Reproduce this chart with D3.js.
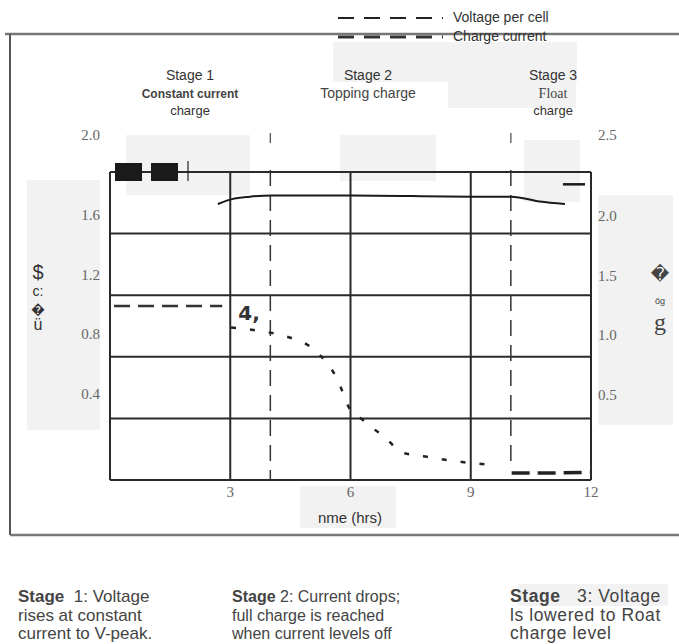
<!DOCTYPE html>
<html lang="en">
<head>
  <meta charset="UTF-8">
  <title>Three-stage charge</title>
  <script src="https://d3js.org/d3.v7.min.js"></script>
  <style>
    body { margin: 0; padding: 0; background: #fff; }
    svg { display: block; }
    .serif { font-family: "Liberation Serif", "DejaVu Serif", serif; fill: #666; font-size: 15px; }
    .sans { font-family: "Liberation Sans", Arial, sans-serif; fill: #333; }
    .note { font-family: "Liberation Sans", Arial, sans-serif; fill: #444; }
  </style>
</head>
<body>
<div id="chart"></div>
<script>
  // time axis (hrs)
  const hourGrid = [0, 3, 6, 9, 12];
  const hourTicks = [3, 6, 9, 12];
  const stageBounds = [4, 10];

  // left axis (charge current) and right axis (voltage per cell)
  const leftTicks = [1.6, 1.2, 0.8, 0.4];
  const rightTicks = [2.0, 1.5, 1.0, 0.5];
  const currentGrid = [0, 0.4, 0.8, 1.2, 1.6, 2.0];

  // voltage per cell
  const voltHours = [2.69, 3.04, 3.49, 4.04, 6, 9.03, 10.02, 10.72, 11.35];
  const voltValues = [2.24, 2.28, 2.30, 2.31, 2.31, 2.30, 2.30, 2.26, 2.24];

  // charge current, three pieces
  const holdHours = [0.1, 2.8];
  const holdValues = [1.13, 1.13];
  const dropHours = [3.02, 4.76, 5.24, 5.64, 6.03, 6.31, 6.53, 6.81, 7.28, 7.93, 8.68, 9.48];
  const dropValues = [0.99, 0.90, 0.81, 0.67, 0.44, 0.39, 0.34, 0.29, 0.18, 0.15, 0.12, 0.10];
  const floatHours = [10.02, 11.0, 11.97];
  const floatValues = [0.045, 0.045, 0.05];

  const stages = [
    { title: "Stage 1", sub: "Constant current", sub2: "charge" },
    { title: "Stage 2", sub: "Topping charge", sub2: "" },
    { title: "Stage 3", sub: "Float", sub2: "charge" }
  ];
  const notes = [
    ["Stage  1: Voltage", "rises at constant", "current to V-peak."],
    ["Stage 2: Current drops;", "full charge is reached", "when current levels off"],
    ["Stage   3: Voltage", "ls lowered to Roat", "charge level"]
  ];

  const W = 679, H = 644;
  const svg = d3.select("#chart").append("svg").attr("width", W).attr("height", H);

  const x = d3.scaleLinear().domain([0, 12]).range([110, 591]);
  const yI = d3.scaleLinear().domain([0, 2.0]).range([480, 172]);
  const yV = d3.scaleLinear().domain([0, 2.5]).range([480, 172]);
  // tick labels sit between the grid lines in the scan
  const yLabL = d3.scaleLinear().domain([0.4, 1.6]).range([399, 220]);
  const yLabR = d3.scaleLinear().domain([0.5, 2.0]).range([400, 221]);

  // scan smudges
  const smudge = [[333, 42, 244, 40], [448, 42, 128, 66], [126, 135, 124, 60], [340, 135, 96, 46],
                  [524, 140, 56, 62], [27, 180, 73, 250], [598, 195, 75, 230], [300, 486, 96, 42],
                  [518, 584, 150, 22]];
  svg.selectAll(".smudge").data(smudge).enter().append("rect")
    .attr("x", d => d[0]).attr("y", d => d[1]).attr("width", d => d[2]).attr("height", d => d[3])
    .attr("fill", "#f2f2f2");

  // outer frame
  svg.append("line").attr("x1", 5).attr("x2", W).attr("y1", 34).attr("y2", 34).attr("stroke", "#777").attr("stroke-width", 2.5);
  svg.append("line").attr("x1", 10).attr("x2", 10).attr("y1", 34).attr("y2", 535).attr("stroke", "#555").attr("stroke-width", 2);
  svg.append("line").attr("x1", 10).attr("x2", W).attr("y1", 535).attr("y2", 535).attr("stroke", "#777").attr("stroke-width", 2.5);

  // legend
  const legend = svg.append("g");
  legend.append("line").attr("x1", 338).attr("x2", 443).attr("y1", 18).attr("y2", 18)
    .attr("stroke", "#222").attr("stroke-width", 2).attr("stroke-dasharray", "16,10");
  legend.append("line").attr("x1", 338).attr("x2", 443).attr("y1", 37).attr("y2", 37)
    .attr("stroke", "#333").attr("stroke-width", 3).attr("stroke-dasharray", "16,10");
  legend.append("text").attr("class", "sans").attr("x", 453).attr("y", 22).attr("font-size", 14).text("Voltage per cell");
  legend.append("text").attr("class", "sans").attr("x", 453).attr("y", 41).attr("font-size", 14).attr("fill", "#555").text("Charge current");

  // stage headings
  const stageX = [190, 368, 553];
  const sg = svg.selectAll(".stage").data(stages).enter().append("g")
    .attr("transform", (d, i) => `translate(${stageX[i]},0)`);
  sg.append("text").attr("class", "sans").attr("text-anchor", "middle").attr("y", 80).attr("font-size", 14).text(d => d.title);
  sg.append("text").attr("text-anchor", "middle").attr("y", 98)
    .attr("font-family", (d, i) => i === 2 ? "Liberation Serif, serif" : "Liberation Sans, Arial, sans-serif")
    .attr("font-weight", (d, i) => i === 0 ? "bold" : "normal")
    .attr("font-size", (d, i) => i === 0 ? 12 : 14)
    .attr("fill", "#444").text(d => d.sub);
  sg.append("text").attr("class", "sans").attr("text-anchor", "middle").attr("y", 115).attr("font-size", 13)
    .attr("fill", "#666").text(d => d.sub2);

  // top axis end labels
  svg.append("text").attr("class", "serif").attr("x", 100).attr("y", 140).attr("text-anchor", "end").text("2.0");
  svg.append("text").attr("class", "serif").attr("x", 598).attr("y", 140).text("2.5");

  // grid
  const grid = svg.append("g").attr("stroke", "#2a2a2a").attr("stroke-width", 2);
  grid.selectAll(".gx").data(hourGrid).enter().append("line")
    .attr("x1", d => x(d)).attr("x2", d => x(d)).attr("y1", yI(2.0)).attr("y2", yI(0));
  grid.selectAll(".gy").data(currentGrid).enter().append("line")
    .attr("x1", x(0)).attr("x2", x(12)).attr("y1", d => yI(d)).attr("y2", d => yI(d));

  // stage boundaries
  svg.selectAll(".bound").data(stageBounds).enter().append("line")
    .attr("x1", d => x(d)).attr("x2", d => x(d)).attr("y1", yI(2.0) - 2).attr("y2", (d, i) => i === 1 ? yI(0.1) : yI(0))
    .attr("stroke", "#333").attr("stroke-width", 1.5).attr("stroke-dasharray", "16,9");
  svg.selectAll(".btick").data(stageBounds).enter().append("line")
    .attr("x1", d => x(d)).attr("x2", d => x(d)).attr("y1", 133).attr("y2", 143)
    .attr("stroke", "#555").attr("stroke-width", 1.3);

  // black legend blocks in plot corner
  svg.append("rect").attr("x", 115).attr("y", 163).attr("width", 27).attr("height", 18).attr("fill", "#1a1a1a");
  svg.append("rect").attr("x", 151).attr("y", 163).attr("width", 27).attr("height", 18).attr("fill", "#1a1a1a");
  svg.append("line").attr("x1", 188).attr("x2", 188).attr("y1", 161).attr("y2", 181).attr("stroke", "#222").attr("stroke-width", 1.2);

  // axis tick labels
  svg.selectAll(".tl").data(leftTicks).enter().append("text").attr("class", "serif")
    .attr("x", 100).attr("y", d => yLabL(d)).attr("text-anchor", "end").text(d => d.toFixed(1));
  svg.selectAll(".tr").data(rightTicks).enter().append("text").attr("class", "serif")
    .attr("x", 598).attr("y", d => yLabR(d)).text(d => d.toFixed(1));
  svg.selectAll(".tx").data(hourTicks).enter().append("text").attr("class", "serif")
    .attr("x", d => x(d)).attr("y", 497).attr("text-anchor", "middle").text(d => d);
  svg.append("text").attr("class", "sans").attr("x", 350).attr("y", 523).attr("text-anchor", "middle")
    .attr("font-size", 15).attr("fill", "#444").text("nme (hrs)");

  // garbled axis titles
  const lt = svg.append("g").attr("class", "sans").attr("fill", "#555");
  lt.append("text").attr("x", 38).attr("y", 279).attr("text-anchor", "middle").attr("font-size", 20).text("$");
  lt.append("text").attr("x", 38).attr("y", 296).attr("text-anchor", "middle").attr("font-size", 14).text("c:");
  lt.append("text").attr("x", 38).attr("y", 314).attr("text-anchor", "middle").attr("font-size", 14).text("\uFFFD");
  lt.append("text").attr("x", 38).attr("y", 330).attr("text-anchor", "middle").attr("font-size", 16).text("ü");
  const rt = svg.append("g").attr("fill", "#444");
  rt.append("text").attr("x", 660).attr("y", 280).attr("text-anchor", "middle").attr("font-size", 18).attr("font-family", "DejaVu Sans").text("\uFFFD");
  rt.append("text").attr("x", 660).attr("y", 304).attr("text-anchor", "middle").attr("font-size", 9).attr("font-family", "Liberation Sans").text("ōg");
  rt.append("text").attr("x", 660).attr("y", 330).attr("text-anchor", "middle").attr("font-size", 24).attr("font-family", "Liberation Serif").text("g");

  // voltage curve
  const vLine = d3.line().x(d => x(d[0])).y(d => yV(d[1])).curve(d3.curveMonotoneX);
  svg.append("path").datum(d3.zip(voltHours, voltValues)).attr("d", vLine)
    .attr("fill", "none").attr("stroke", "#1a1a1a").attr("stroke-width", 2);
  svg.append("line").attr("x1", x(11.3)).attr("x2", x(11.85)).attr("y1", yV(2.40)).attr("y2", yV(2.40))
    .attr("stroke", "#1a1a1a").attr("stroke-width", 2.5);

  // charge current
  const iLine = d3.line().x(d => x(d[0])).y(d => yI(d[1]));
  svg.append("path").datum(d3.zip(holdHours, holdValues)).attr("d", iLine)
    .attr("fill", "none").attr("stroke", "#333").attr("stroke-width", 2.5).attr("stroke-dasharray", "16,8");
  svg.append("path").datum(d3.zip(dropHours, dropValues)).attr("d", d3.line().x(d => x(d[0])).y(d => yI(d[1])).curve(d3.curveMonotoneX))
    .attr("fill", "none").attr("stroke", "#222").attr("stroke-width", 2.5).attr("stroke-dasharray", "5,14");
  svg.append("path").datum(d3.zip(floatHours, floatValues)).attr("d", iLine)
    .attr("fill", "none").attr("stroke", "#222").attr("stroke-width", 3.5).attr("stroke-dasharray", "18,8");
  svg.append("text").attr("x", x(3.2)).attr("y", 320).attr("font-family", "DejaVu Sans").attr("font-weight", "bold")
    .attr("font-size", 20).attr("fill", "#333").text("4,");

  // stage notes
  const noteX = [18, 232, 510];
  const noteSize = [17, 16, 17.5];
  const ng = svg.selectAll(".notes").data(notes).enter().append("g")
    .attr("transform", (d, i) => `translate(${noteX[i]},602)`);
  ng.each(function (lines, i) {
    const g = d3.select(this);
    lines.forEach((s, j) => {
      const t = g.append("text").attr("class", "note").attr("y", j * 18.5)
        .attr("font-size", noteSize[i]).attr("letter-spacing", i === 2 ? 0.6 : 0)
        .attr("xml:space", "preserve").style("white-space", "pre");
      if (j === 0) {
        t.append("tspan").attr("font-weight", "bold").text("Stage");
        t.append("tspan").text(s.slice(5));
      } else {
        t.text(s);
      }
    });
  });
</script>
</body>
</html>
